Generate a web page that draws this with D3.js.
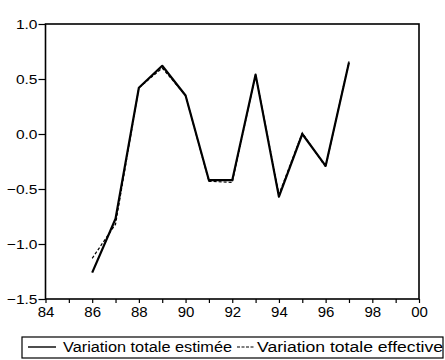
<!DOCTYPE html>
<html><head><meta charset="utf-8">
<script src="https://cdn.jsdelivr.net/npm/d3@7"></script>
<style>
html,body{margin:0;padding:0;background:#fff;}
svg{display:block;font-family:"Liberation Sans",Arial,sans-serif;}
</style></head>
<body>
<svg id="c" width="445" height="360"></svg>
<script>
const years = [1986,1987,1988,1989,1990,1991,1992,1993,1994,1995,1996,1997];
const estimee = [-1.26,-0.77,0.42,0.62,0.35,-0.42,-0.42,0.54,-0.57,0.00,-0.29,0.65];
const effective = [-1.13,-0.82,0.42,0.60,0.35,-0.43,-0.44,0.54,-0.55,0.01,-0.30,0.66];
const yTicks = [1.0,0.5,0.0,-0.5,-1.0,-1.5];
const xTicks = d3.range(1984,2001);
const seriesNames = ["Variation totale estimée","Variation totale effective"];

const svg = d3.select("#c");
const L=45.5, R=419, T=24, B=299;
const x = d3.scaleLinear().domain([1984,2000]).range([L,R]);
const y = d3.scaleLinear().domain([-1.5,1.0]).range([B,T]);

// x axis
const gx = svg.append("g").attr("transform",`translate(0,${B})`)
  .call(d3.axisBottom(x).tickValues(xTicks).tickSize(4).tickPadding(3)
    .tickFormat(d => d%2===0 ? String(d%100).padStart(2,"0") : ""));
gx.select(".domain").remove();
gx.selectAll("line").attr("stroke","#000").attr("stroke-width",1.2);
gx.selectAll("text").attr("font-size","15px").attr("fill","#000").attr("font-family","Liberation Sans, Arial, sans-serif");

// y axis
const gy = svg.append("g").attr("transform",`translate(${L},0)`)
  .call(d3.axisLeft(y).tickValues(yTicks).tickSize(7).tickPadding(1).tickFormat(d3.format(".1f")));
gy.select(".domain").remove();
gy.selectAll("line").attr("stroke","#000").attr("stroke-width",1.2);
gy.selectAll("text").attr("font-size","13.5px").attr("fill","#000").attr("font-family","Liberation Sans, Arial, sans-serif")
  .attr("x",0).attr("dy","0.35em").attr("transform","translate(-8,0) scale(1.15,1)");

// frame
svg.append("rect").attr("x",L).attr("y",T).attr("width",R-L).attr("height",B-T)
  .attr("fill","none").attr("stroke","#000").attr("stroke-width",1.6);

const line = d3.line().x((d,i)=>x(years[i])).y(d=>y(d));
svg.append("path").datum(effective).attr("d",line).attr("fill","none")
  .attr("stroke","#000").attr("stroke-width",1.2).attr("stroke-dasharray","3,2");
svg.append("path").datum(estimee).attr("d",line).attr("fill","none")
  .attr("stroke","#000").attr("stroke-width",2.2).attr("stroke-linejoin","round");

// legend
const lg = svg.append("g");
lg.append("rect").attr("x",22).attr("y",337).attr("width",421).attr("height",21)
  .attr("fill","none").attr("stroke","#000").attr("stroke-width",1.2);
lg.append("line").attr("x1",28).attr("x2",56).attr("y1",347).attr("y2",347)
  .attr("stroke","#000").attr("stroke-width",1.4);
lg.append("text").attr("x",63).attr("y",352).attr("font-size","14px")
  .attr("textLength",169).attr("lengthAdjust","spacingAndGlyphs").text(seriesNames[0]);
lg.append("line").attr("x1",237).attr("x2",254).attr("y1",347).attr("y2",347)
  .attr("stroke","#000").attr("stroke-width",1.2).attr("stroke-dasharray","3,1.5");
lg.append("text").attr("x",257).attr("y",352).attr("font-size","14px")
  .attr("textLength",186).attr("lengthAdjust","spacingAndGlyphs").text(seriesNames[1]);
</script>
</body></html>
